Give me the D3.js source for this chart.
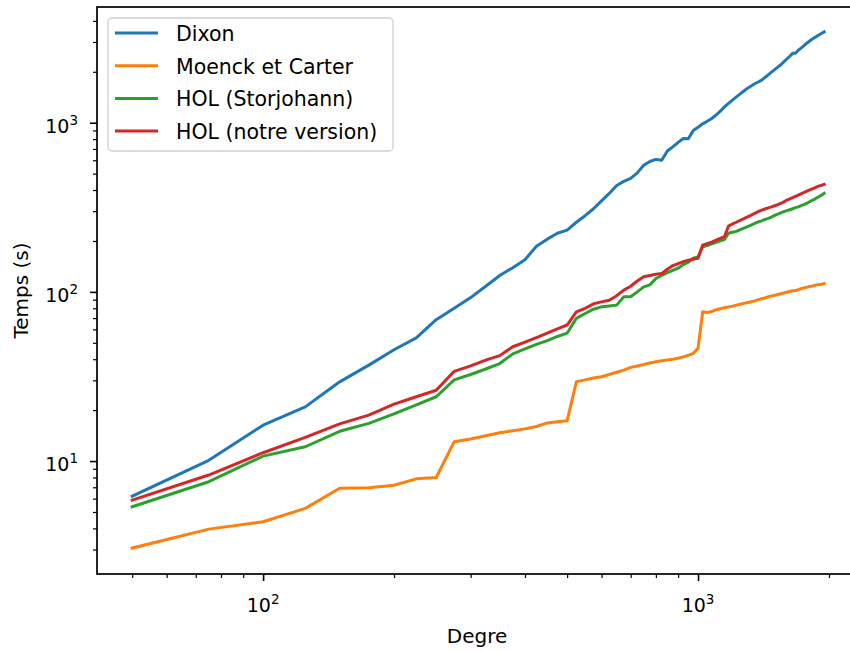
<!DOCTYPE html>
<html>
<head>
<meta charset="utf-8">
<script src="https://cdn.jsdelivr.net/npm/d3@7"></script>
<style>
  body { margin: 0; background: #fff; }
  text { font-family: "DejaVu Sans", sans-serif; fill: #000; }
</style>
</head>
<body>
<div id="chart-area"></div>
<script>
let degres = [50, 75, 100, 125, 150, 175, 200, 225, 250, 275, 300, 325, 350, 375, 400, 425, 450, 475, 500,
  525, 550, 575, 600, 625, 650, 675, 700, 725, 750, 775, 800, 825, 850, 875, 900, 925, 950, 975, 1000,
  1025, 1050, 1075, 1100, 1125, 1150, 1175, 1200, 1225, 1250, 1275, 1300, 1325, 1350, 1375, 1400,
  1425, 1450, 1475, 1500, 1525, 1550, 1575, 1600, 1625, 1650, 1675, 1700, 1725, 1750, 1775, 1800,
  1825, 1850, 1875, 1900, 1925, 1950]

let dixon = [6.2, 10.1, 16.3, 20.9, 29.4, 36.9, 45.5, 53.5, 68.5, 80, 92.5, 108, 125, 139, 155, 186, 205, 222, 232,
  258, 282, 310, 345, 382, 425, 450, 469, 505, 560, 590, 607, 600, 680, 720, 765, 807, 805, 900, 940,
  985, 1020, 1059, 1110, 1170, 1240, 1300, 1361, 1420, 1480, 1540, 1600, 1650, 1700, 1740, 1786,
  1850, 1920, 1990, 2060, 2130, 2200, 2290, 2380, 2470, 2570, 2575, 2680, 2760, 2850, 2940, 3020,
  3100, 3180, 3240, 3310, 3380, 3445]

let moenck = [3.06, 3.96, 4.38, 5.25, 6.9, 6.95, 7.2, 7.85, 8.0, 13.0, 13.5, 14.1, 14.7, 15.1, 15.5, 16.0, 16.8, 17.1, 17.3,
  29.4, 30.2, 31.0, 31.5, 32.5, 33.5, 34.5, 35.8, 36.5, 37.2, 38.0, 38.6, 39.2, 39.6, 40.0, 40.5, 41.3, 42.2, 43.3, 46.4,
  76.2, 75.5, 76.5, 78.5, 79.5, 80.5, 81.5, 82.4, 83.5, 84.5, 85.5, 86.5, 87.5, 88.5, 90, 91,
  92, 93.5, 94.5, 95.5, 96.5, 97.5, 98.5, 99.5, 100.5, 101.5, 102, 103, 104.5, 105.5, 106.4, 107.5,
  108, 109, 110, 110.5, 111, 112]

let holStorjohann = [5.37, 7.55, 10.7, 12.15, 15.0, 16.7, 19.0, 21.5, 24.0, 30.2, 32.5, 35.0, 37.7, 43.0, 46.0, 49.0, 51.5, 54.5, 57.0,
  69.7, 74.5, 79, 81.6, 82.5, 83.5, 93.5, 93.5, 100, 107, 110, 120, 125, 130, 134, 138, 145, 150, 158, 161,
  185, 188, 192, 196, 200, 204, 222, 225, 228, 233, 238, 243, 248, 254, 259, 263,
  268, 272, 277, 283, 288, 293, 298, 302, 306, 310, 315, 318, 323, 328, 333, 340,
  346, 352, 360, 366, 374, 382]

let holNotre = [5.88, 8.27, 11.2, 13.8, 16.6, 18.7, 21.7, 24.0, 26.2, 33.9, 36.5, 39.5, 42.0, 47.4, 50.5, 53.7, 57, 60.5, 63.7,
  76.2, 80, 85, 87.3, 89.3, 95, 102.5, 108, 116, 123, 125, 127, 128.5, 136, 143, 147, 151, 154, 156, 158,
  189, 193, 197, 202, 207, 212, 245, 252, 258, 265, 271, 278, 284, 291, 298, 304,
  309, 314, 318, 323, 328, 334, 340, 349, 355, 361, 367, 373, 380, 386, 393, 399,
  405, 411, 418, 423, 427, 432]

let names = ["Dixon", "Moenck et Carter", "HOL (Storjohann)", "HOL (notre version)"]
let colors = ["#1f77b4", "#ff7f0e", "#2ca02c", "#d62728"]
let series = [dixon, moenck, holStorjohann, holNotre]

let xMajor = [100, 1000]
let xMinor = [50, 60, 70, 80, 90, 200, 300, 400, 500, 600, 700, 800, 900, 2000]
let yMajor = [10, 100, 1000]
let yMinor = [3, 4, 5, 6, 7, 8, 9, 20, 30, 40, 50, 60, 70, 80, 90, 200, 300, 400, 500, 600, 700, 800, 900, 2000, 3000, 4000]

let width = 850
let height = 652
let margin = {left: 97, right: 857, top: 7, bottom: 574}

let svg = d3.select("#chart-area")
  .append("svg")
    .attr("width", width)
    .attr("height", height)

let x = d3.scaleLog().domain([41.5, 2320]).range([margin.left, margin.right])
let y = d3.scaleLog().domain([2.15, 4830]).range([margin.bottom, margin.top])

let plot = svg.append("g")

let line = d3.line()
  .x((d, i) => x(degres[i]))
  .y(d => y(d))

series.forEach((s, k) => {
  plot.append("path")
    .datum(s)
    .attr("fill", "none")
    .attr("stroke", colors[k])
    .attr("stroke-width", 3)
    .attr("stroke-linejoin", "round")
    .attr("stroke-linecap", "square")
    .attr("d", line)
})

// axes
let bottomAxis = d3.axisBottom(x).tickValues(xMajor).tickSize(7).tickFormat("")
let gx = svg.append("g").attr("transform", "translate(0," + margin.bottom + ")").call(bottomAxis)
svg.append("g").attr("transform", "translate(0," + margin.bottom + ")")
  .call(d3.axisBottom(x).tickValues(xMinor).tickSize(4).tickFormat(""))
  .call(g => g.selectAll("line").attr("stroke-width", 1.2))

let leftAxis = d3.axisLeft(y).tickValues(yMajor).tickSize(7).tickFormat("")
let gy = svg.append("g").attr("transform", "translate(" + margin.left + ",0)").call(leftAxis)
svg.append("g").attr("transform", "translate(" + margin.left + ",0)")
  .call(d3.axisLeft(y).tickValues(yMinor).tickSize(4).tickFormat(""))
  .call(g => g.selectAll("line").attr("stroke-width", 1.2))

svg.selectAll(".domain").remove()
gx.selectAll("line").attr("stroke-width", 1.6)
gy.selectAll("line").attr("stroke-width", 1.6)

// spines
svg.append("rect")
  .attr("x", margin.left)
  .attr("y", margin.top)
  .attr("width", margin.right - margin.left)
  .attr("height", margin.bottom - margin.top)
  .attr("fill", "none")
  .attr("stroke", "#000")
  .attr("stroke-width", 1.7)

// tick labels as 10^n
function powLabel(sel, v) {
  let n = Math.round(Math.log10(v))
  sel.append("tspan").text("10")
  sel.append("tspan").attr("dy", -8).attr("font-size", "13.5px").text(n)
}

xMajor.forEach(v => {
  let t = svg.append("text")
    .attr("x", x(v))
    .attr("y", 612)
    .attr("text-anchor", "middle")
    .attr("font-size", "19px")
  powLabel(t, v)
})

yMajor.forEach(v => {
  let t = svg.append("text")
    .attr("x", 78)
    .attr("y", y(v) + 10)
    .attr("text-anchor", "end")
    .attr("font-size", "19px")
  powLabel(t, v)
})

svg.append("text")
  .attr("x", (margin.left + margin.right) / 2)
  .attr("y", 643)
  .attr("text-anchor", "middle")
  .attr("font-size", "20px")
  .text("Degre")

svg.append("text")
  .attr("transform", "translate(28," + ((margin.top + margin.bottom) / 2) + ") rotate(-90)")
  .attr("text-anchor", "middle")
  .attr("font-size", "20px")
  .text("Temps (s)")

// legend
let legend = svg.append("g")
legend.append("rect")
  .attr("x", 108)
  .attr("y", 18)
  .attr("width", 285)
  .attr("height", 133)
  .attr("rx", 4)
  .attr("fill", "#fff")
  .attr("fill-opacity", 0.8)
  .attr("stroke", "#d0d0d0")
  .attr("stroke-width", 1.3)

names.forEach((n, k) => {
  let ly = 33 + k * 32.7
  legend.append("line")
    .attr("x1", 115).attr("x2", 158)
    .attr("y1", ly).attr("y2", ly)
    .attr("stroke", colors[k])
    .attr("stroke-width", 3)
  legend.append("text")
    .attr("x", 176)
    .attr("y", ly + 8)
    .attr("font-size", "20.5px")
    .text(n)
})
</script>
</body>
</html>
